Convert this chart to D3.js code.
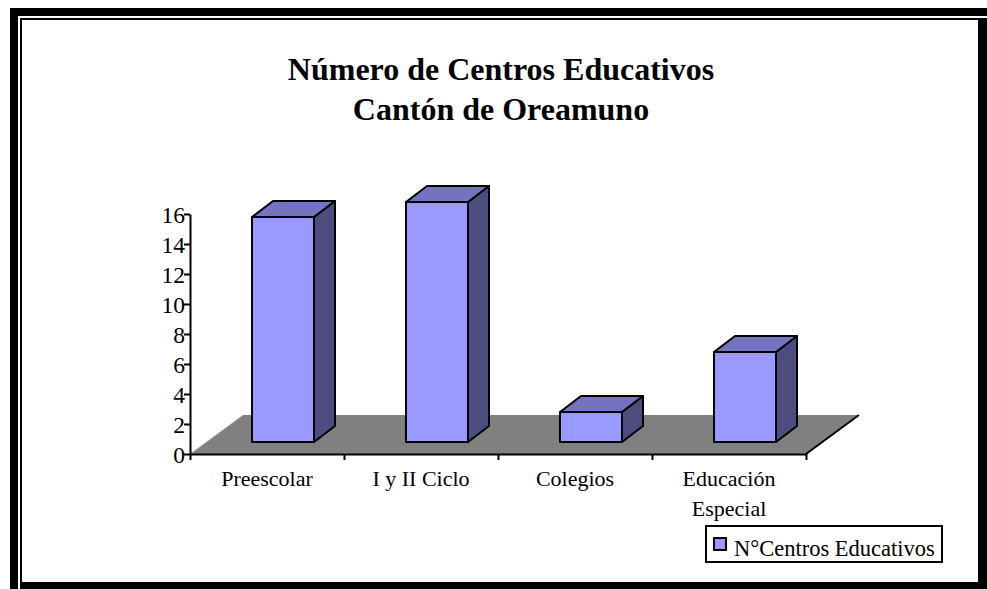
<!DOCTYPE html>
<html>
<head>
<meta charset="utf-8">
<script src="https://cdnjs.cloudflare.com/ajax/libs/d3/7.8.5/d3.min.js"></script>
<style>
html, body { margin: 0; padding: 0; background: #fff; }
svg { display: block; }
text { font-family: "Liberation Serif", serif; fill: #000; }
</style>
</head>
<body>
<div id="chart"></div>
<script>
var w = 987;
var h = 589;

var categories = ["Preescolar", "I y II Ciclo", "Colegios", "Educación|Especial"];
var values = [15, 16, 2, 6];
var yTicks = [0, 2, 4, 6, 8, 10, 12, 14, 16];
var titleLines = ["Número de Centros Educativos", "Cantón de Oreamuno"];
var seriesName = "N°Centros Educativos";

var svg = d3.select("#chart")
            .append("svg")
            .attr("width", w)
            .attr("height", h);

// double frame round the whole picture
svg.append("rect").attr("x", 10).attr("y", 8).attr("width", 8).attr("height", 581).style("fill", "#000");
svg.append("rect").attr("x", 10).attr("y", 8).attr("width", 977).attr("height", 8).style("fill", "#000");
svg.append("rect").attr("x", 20).attr("y", 18).attr("width", 2).attr("height", 571).style("fill", "#000");
svg.append("rect").attr("x", 20).attr("y", 18).attr("width", 958).attr("height", 2).style("fill", "#000");
svg.append("rect").attr("x", 978).attr("y", 18).attr("width", 9).attr("height", 571).style("fill", "#000");
svg.append("rect").attr("x", 20).attr("y", 582).attr("width", 967).attr("height", 7).style("fill", "#000");

svg.selectAll("text.title")
   .data(titleLines)
   .enter()
   .append("text")
   .attr("class", "title")
   .attr("x", 501)
   .attr("y", function(d, i) { return 80 + i * 40; })
   .attr("text-anchor", "middle")
   .style("font-size", "32px")
   .style("font-weight", "bold")
   .text(function(d) { return d; });

var x = d3.scaleBand().domain(categories).range([190, 806]);
var xEdge = d3.scaleLinear().domain([0, 4]).range([190, 806]);
var y = d3.scaleLinear().domain([0, 16]).range([454, 214]);

var floorDx = 53, floorDy = -39;   // floor depth
var barOffX = 16, barOffY = -12;   // where bars stand on the floor
var depthX = 21, depthY = -16;     // bar depth
var barW = 62;

// floor
svg.append("path")
   .attr("d", "M190,454L806,454L" + (806 + floorDx) + "," + (454 + floorDy) + "L" + (190 + floorDx) + "," + (454 + floorDy) + "Z")
   .style("fill", "#808080");
svg.append("line")
   .attr("x1", 190).attr("y1", 454)
   .attr("x2", 190 + floorDx).attr("y2", 454 + floorDy)
   .style("stroke", "#c8c8c8")
   .style("stroke-width", 1);
// black edge on the front right of the floor
svg.append("line")
   .attr("x1", 806).attr("y1", 454)
   .attr("x2", 806 + floorDx).attr("y2", 454 + floorDy)
   .style("stroke", "#000")
   .style("stroke-width", 2);

var bars = svg.selectAll("g.bar")
   .data(values)
   .enter()
   .append("g")
   .attr("class", "bar")
   .style("stroke", "#000")
   .style("stroke-width", 2)
   .style("stroke-linejoin", "round");

function left(i) { return x(categories[i]) + x.bandwidth() / 2 + barOffX - barW / 2; }
function top_(d) { return y(d) + barOffY; }
var base = y(0) + barOffY;

bars.append("path")
   .attr("d", function(d, i) {
     var a = left(i) + barW;
     return "M" + a + "," + base + "L" + (a + depthX) + "," + (base + depthY) +
            "L" + (a + depthX) + "," + (top_(d) + depthY) + "L" + a + "," + top_(d) + "Z";
   })
   .style("fill", "#4d4d80");

bars.append("path")
   .attr("d", function(d, i) {
     var a = left(i);
     return "M" + a + "," + top_(d) + "L" + (a + depthX) + "," + (top_(d) + depthY) +
            "L" + (a + barW + depthX) + "," + (top_(d) + depthY) + "L" + (a + barW) + "," + top_(d) + "Z";
   })
   .style("fill", "#7373bf");

bars.append("rect")
   .attr("x", function(d, i) { return left(i); })
   .attr("y", function(d) { return top_(d); })
   .attr("width", barW)
   .attr("height", function(d) { return base - top_(d); })
   .style("fill", "#9999ff");

// axes
var yAxis = svg.append("g")
   .attr("transform", "translate(190,0)")
   .call(d3.axisLeft(y).tickValues(yTicks).tickSize(6).tickSizeOuter(0).tickPadding(-1));
var xAxis = svg.append("g")
   .attr("transform", "translate(0,454)")
   .call(d3.axisBottom(xEdge).tickValues([0, 1, 2, 3, 4]).tickSize(6).tickSizeOuter(0).tickFormat(""));
svg.selectAll(".domain, .tick line").style("stroke", "#000").style("stroke-width", 2);
yAxis.selectAll("text").style("font-size", "23.5px").style("font-family", "Liberation Serif").attr("dy", "0.34em");

// category labels, the last one wraps on two lines
var labels = svg.selectAll("text.cat")
   .data(categories)
   .enter()
   .append("text")
   .attr("class", "cat")
   .attr("text-anchor", "middle")
   .style("font-size", "22px");

labels.selectAll("tspan")
   .data(function(d) { return d.split("|").map(function(t) { return { t: t, c: d }; }); })
   .enter()
   .append("tspan")
   .attr("x", function(d) { return x(d.c) + x.bandwidth() / 2; })
   .attr("y", function(d, i) { return 486 + i * 30; })
   .text(function(d) { return d.t; });

// legend
svg.append("rect")
   .attr("x", 706).attr("y", 526).attr("width", 236).attr("height", 36)
   .style("fill", "#fff").style("stroke", "#000").style("stroke-width", 2);
svg.append("rect")
   .attr("x", 714).attr("y", 538).attr("width", 12).attr("height", 12)
   .style("fill", "#9999ff").style("stroke", "#000").style("stroke-width", 2);
svg.append("text")
   .attr("x", 734).attr("y", 556)
   .style("font-size", "22.5px")
   .text(seriesName);
</script>
</body>
</html>
